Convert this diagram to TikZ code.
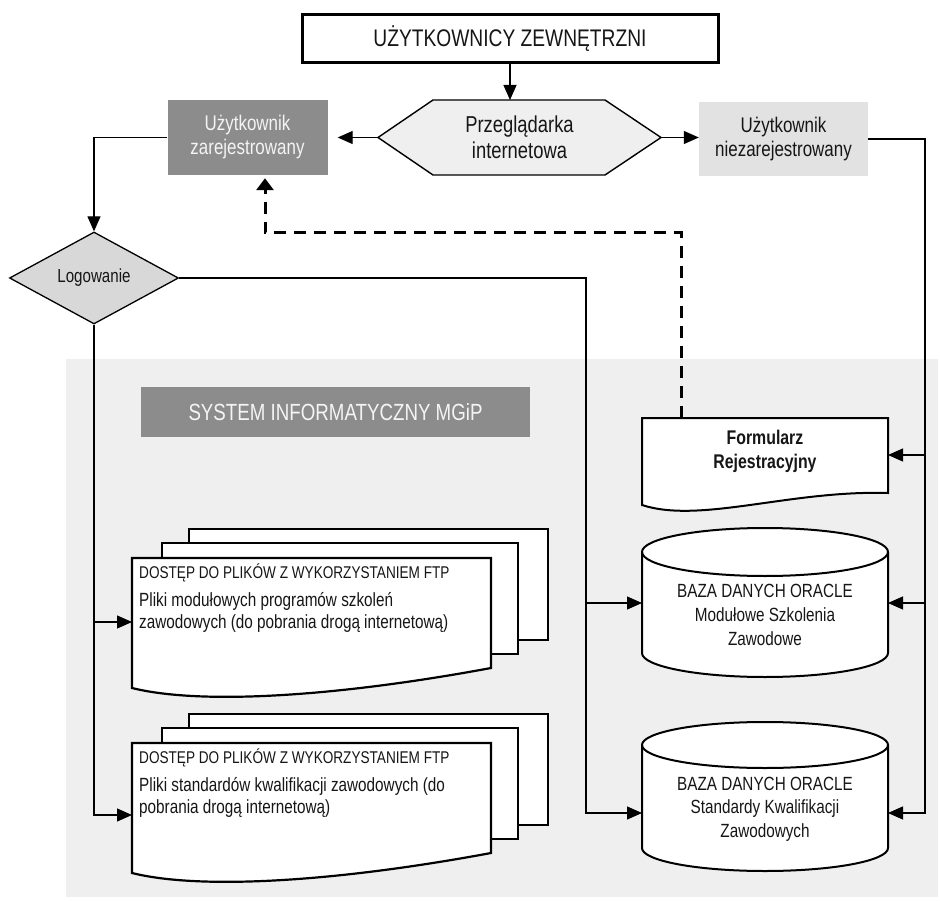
\documentclass[tikz,border=0pt]{standalone}
\usepackage{fontspec}
\setmainfont{Liberation Sans}
\newfontfamily\narrowfont[FakeStretch=0.8]{Liberation Sans}
\usetikzlibrary{arrows.meta,shapes.geometric}

\definecolor{panel}{HTML}{EFEFEF}
\definecolor{darkfill}{HTML}{8C8C8C}
\definecolor{lightfill}{HTML}{E2E2E2}
\definecolor{hexfill}{HTML}{EFEFEF}
\definecolor{diafill}{HTML}{D8D8D8}
\definecolor{paletext}{HTML}{F4F4F4}
\definecolor{ink}{HTML}{161616}

\newcommand{\fsz}[2]{\fontsize{#1}{#2}\selectfont}

\begin{document}
\begin{tikzpicture}[x=1pt,y=-1pt,
  conn/.style={line width=1.2pt,line join=miter},
  tip/.style={-{Triangle[length=15pt,width=13pt]}},
  regtip/.style={-{Triangle[length=12pt,width=17pt]}},
  dashedlink/.style={line width=3pt,dash pattern=on 12pt off 8pt},
  outline/.style={draw=black,fill=white,line width=2.2pt,line join=miter},
  txt/.style={inner sep=0pt,text=ink},
  headtxt/.style={txt,anchor=base west,font=\narrowfont\fsz{17}{20}},
  bodytxt/.style={txt,anchor=base west,font=\narrowfont\fsz{19.1}{22}},
  dbtxt/.style={txt,anchor=base,font=\narrowfont\fsz{19.1}{22}},
]
\useasboundingbox (0,0) rectangle (940,901);

% shaded area of the information system
\fill[panel] (66,359) rectangle (938,897);
\node[fill=darkfill,text=paletext,minimum width=389pt,minimum height=50pt,inner sep=0pt,
      font=\narrowfont\fsz{23.4}{26}] (system) at (335.5,412) {SYSTEM INFORMATYCZNY MGiP};

% stacked FTP file documents
\foreach \dy in {0,185}{
  \begin{scope}[shift={(0,\dy)}]
    \filldraw[outline] (189,529) rectangle (548,640);
    \filldraw[outline] (162,543) rectangle (518,654);
    \filldraw[outline] (132,558) -- (491,558) -- (491,668)
      .. controls (335,697) and (200,705) .. (132,688) -- cycle;
  \end{scope}
}

% Oracle databases
\foreach \tp/\bt/\ry in {552/653/24, 745/848/23}{
  \filldraw[outline,line width=2pt] (642,\tp) -- (642,\bt)
    arc[start angle=180,end angle=0,x radius=123,y radius=\ry] -- (888,\tp)
    arc[start angle=0,end angle=-180,x radius=123,y radius=\ry] -- cycle;
  \draw[line width=2pt] (642,\tp) arc[start angle=180,end angle=0,x radius=123,y radius=\ry];
}

% registration form
\filldraw[outline,line width=2pt] (642,418) -- (888,418) -- (888,493)
  .. controls (790,490) and (700,524) .. (642,505) -- cycle;
\coordinate (formTop) at (681,418);

% external users and browser
\node[draw,line width=3pt,minimum width=416pt,minimum height=48pt,inner sep=0pt,
      text=ink,font=\narrowfont\fsz{24}{26}] (users) at (510,39) {UŻYTKOWNICY ZEWNĘTRZNI};

\coordinate (hexL) at (378,137.5);
\coordinate (hexR) at (661,137.5);
\coordinate (hexTop) at (510,100);
\filldraw[fill=hexfill,line width=1.4pt,line join=miter]
  (hexL) -- (433,100) -- (605,100) -- (hexR) -- (605,175) -- (433,175) -- cycle;
\node[txt,align=center,font=\narrowfont\fsz{23}{26}] (browser) at (519.5,137.5) {Przeglądarka\\internetowa};

\node[fill=darkfill,text=paletext,minimum width=160pt,minimum height=75pt,inner sep=0pt,
      align=center,font=\narrowfont\fsz{21.2}{24}] (reg) at (247.5,137.5) {Użytkownik\\zarejestrowany};
\node[fill=lightfill,text=ink,minimum width=169pt,minimum height=74pt,inner sep=0pt,
      align=center,font=\narrowfont\fsz{21.2}{24}] (unreg) at (783.5,139) {Użytkownik\\niezarejestrowany};

\node[diamond,draw,fill=diafill,line width=1.3pt,minimum width=169pt,minimum height=92pt,
      aspect=1.84,inner sep=0pt,text=ink,font=\narrowfont\fsz{18.9}{21}] (login) at (94,278) {Logowanie};

% texts inside the documents
\node[headtxt] (docA1) at (139,578) {DOSTĘP DO PLIKÓW Z WYKORZYSTANIEM FTP};
\node[bodytxt] (docA2) at (139,606) {Pliki modułowych programów szkoleń};
\node[bodytxt] (docA3) at (139,628) {zawodowych (do pobrania drogą internetową)};
\node[headtxt] (docB1) at (139,763) {DOSTĘP DO PLIKÓW Z WYKORZYSTANIEM FTP};
\node[bodytxt] (docB2) at (139,791) {Pliki standardów kwalifikacji zawodowych (do};
\node[bodytxt] (docB3) at (139,813) {pobrania drogą internetową)};

% texts inside the databases
\node[dbtxt] (cylA1) at (765,597) {BAZA DANYCH ORACLE};
\node[dbtxt] (cylA2) at (765,621) {Modułowe Szkolenia};
\node[dbtxt] (cylA3) at (765,645) {Zawodowe};
\node[dbtxt] (cylB1) at (765,790) {BAZA DANYCH ORACLE};
\node[dbtxt] (cylB2) at (765,813) {Standardy Kwalifikacji};
\node[dbtxt] (cylB3) at (765,837) {Zawodowych};

% form text
\node[txt,anchor=base,font=\narrowfont\bfseries\fsz{19.8}{22}] (form1) at (765,444) {Formularz};
\node[txt,anchor=base,font=\narrowfont\bfseries\fsz{19.8}{22}] (form2) at (765,468) {Rejestracyjny};

% connector end points on drawn shapes
\coordinate (docAin) at (132,622);
\coordinate (docBin) at (132,815);
\coordinate (cylAin) at (642,603);
\coordinate (cylBin) at (642,813);
\coordinate (cylAout) at (888,603);
\coordinate (cylBout) at (888,813);
\coordinate (formIn) at (888,455);
\coordinate (dashTurn) at (265,233);

% connectors
\draw[conn,tip] (users.south) -- (hexTop);
\draw[conn,tip,shorten >=10pt] (hexL) -- (hexL -| reg.east);
\draw[conn,tip] (hexR) -- (hexR -| unreg.west);
\draw[conn,tip] (reg.west) -| (login.north);

\draw[conn,tip] (login.east) -| ([xshift=-56pt]cylBin) -- (cylBin);
\draw[conn,tip] ([xshift=-56pt]cylAin) -- (cylAin);

\draw[conn,tip] (login.south) |- (docBin);
\draw[conn,tip] (login.south |- docAin) -- (docAin);

\draw[conn,tip] (unreg.east) -| ([xshift=37pt]cylBout) -- (cylBout);
\draw[conn,tip] ([xshift=37pt]formIn) -- (formIn);
\draw[conn,tip] ([xshift=37pt]cylAout) -- (cylAout);

\draw[dashedlink,regtip,shorten >=3pt] (formTop) |- (dashTurn) -- (dashTurn |- reg.south);

\end{tikzpicture}
\end{document}
